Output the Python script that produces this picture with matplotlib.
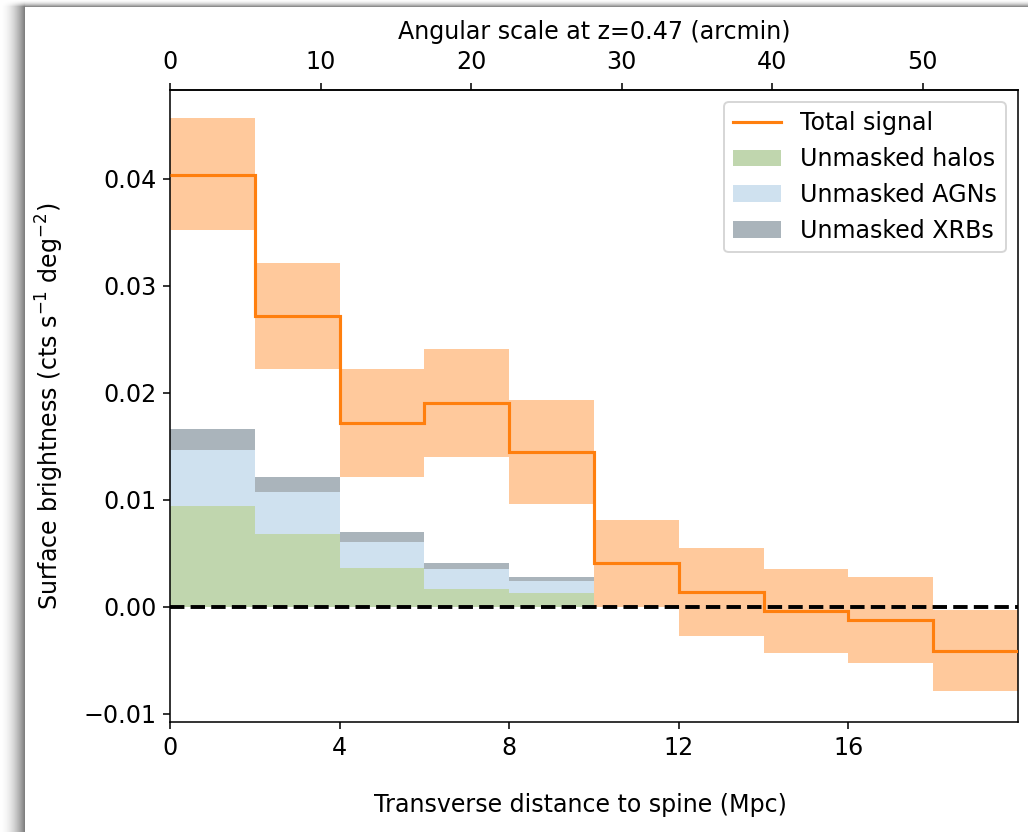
import numpy as np
import matplotlib
matplotlib.use("Agg")
import matplotlib.pyplot as plt
from matplotlib.lines import Line2D

# ---- data ----
edges = [0, 2, 4, 6, 8, 10, 12, 14, 16, 18, 20]
total_signal = [0.0404, 0.0272, 0.0172, 0.0191, 0.0145, 0.0041, 0.0014, -0.0004, -0.0012, -0.0041]
total_upper = [0.0457, 0.0321, 0.0222, 0.0241, 0.0193, 0.0081, 0.0055, 0.0035, 0.0028, -0.0003]
total_lower = [0.0352, 0.0222, 0.0121, 0.0140, 0.0096, 0.0000, -0.0027, -0.0043, -0.0052, -0.0079]

comp_edges = [0, 2, 4, 6, 8, 10]
halos = [0.0094, 0.0068, 0.0036, 0.0017, 0.0013]
agns = [0.0053, 0.0039, 0.0025, 0.0018, 0.0011]
xrbs = [0.0019, 0.0014, 0.0009, 0.0006, 0.0004]

top_ticks = [0, 10, 20, 30, 40, 50]
bottom_ticks = [0, 4, 8, 12, 16]
y_ticks = [-0.01, 0.00, 0.01, 0.02, 0.03, 0.04]
arcmin_per_mpc = 2.817

DPI = 140
W, H = 1028, 832
plt.rcParams['font.size'] = 12.2
plt.rcParams['font.family'] = ['DejaVu Sans']

fig = plt.figure(figsize=(W / DPI, H / DPI), dpi=DPI)

# screenshot drop-shadow background
bg = np.ones((H, W, 3))
xs = np.arange(W)
ys = np.arange(H)
left = np.where(xs < 25, 0.5 * ((xs + 1) / 25.0) ** 2, 0.0)
top = np.where(ys < 7, 0.45 * ((ys + 1) / 7.0) ** 2, 0.0)
dark = np.zeros((H, W))
dark[:, :25] = left[None, :25]
dark[:7, :] = np.maximum(dark[:7, :], top[:7, None])
dark[:7, :25] = left[None, :25] * top[:7, None] / 0.45
bg = bg - dark[:, :, None]
fig.figimage(bg, xo=0, yo=0, origin='upper', zorder=-1)
fig.patch.set_alpha(0)

ax = fig.add_axes([170 / W, 1 - 722 / H, (1018 - 170) / W, (722 - 90) / H])
ax.set_facecolor('white')

e = np.array(edges, dtype=float)
centers = (e[:-1] + e[1:]) / 2
widths = np.diff(e)
up = np.array(total_upper)
lo = np.array(total_lower)
ax.bar(centers, up - lo, bottom=lo, width=widths, color='#ffc99c', lw=0, zorder=1)

ce = np.array(comp_edges, dtype=float)
cc = (ce[:-1] + ce[1:]) / 2
cw = np.diff(ce)
h = np.array(halos)
a = np.array(agns)
x = np.array(xrbs)
b1 = ax.bar(cc, h, width=cw, color='#c0d6ae', lw=0, label='Unmasked halos', zorder=1)
b2 = ax.bar(cc, a, bottom=h, width=cw, color='#cfe1ef', lw=0, label='Unmasked AGNs', zorder=1)
b3 = ax.bar(cc, x, bottom=h + a, width=cw, color='#aab4bb', lw=0, label='Unmasked XRBs', zorder=1)

ax.stairs(total_signal, edges, baseline=None, color='#ff7f0e', lw=1.6,
          label='Total signal', zorder=3)
lh = Line2D([], [], color='#ff7f0e', lw=1.6)

ax.axhline(0, color='black', ls='--', lw=2.0, zorder=2)

ax.set_xlim(0, 20)
ax.set_ylim(-0.01075, 0.0483)
ax.set_xticks(bottom_ticks)
ax.set_yticks(y_ticks)
ax.set_yticklabels([f"{v:.2f}".replace('-', '\u2212') for v in y_ticks])
ax.set_xlabel('Transverse distance to spine (Mpc)', labelpad=17)
ax.xaxis.label.set_x(0.484)
ax.set_ylabel('Surface brightness (cts s$^{-1}$ deg$^{-2}$)', labelpad=9)

sec = ax.secondary_xaxis('top', functions=(lambda v: v * arcmin_per_mpc,
                                           lambda v: v / arcmin_per_mpc))
sec.set_xticks(top_ticks)
sec.tick_params(pad=4.5)
sec.set_xlabel('Angular scale at z=0.47 (arcmin)', labelpad=6)

ax.legend([lh, b1, b2, b3],
          ['Total signal', 'Unmasked halos', 'Unmasked AGNs', 'Unmasked XRBs'],
          loc='upper right')

fig.savefig('out.png', dpi=DPI)
